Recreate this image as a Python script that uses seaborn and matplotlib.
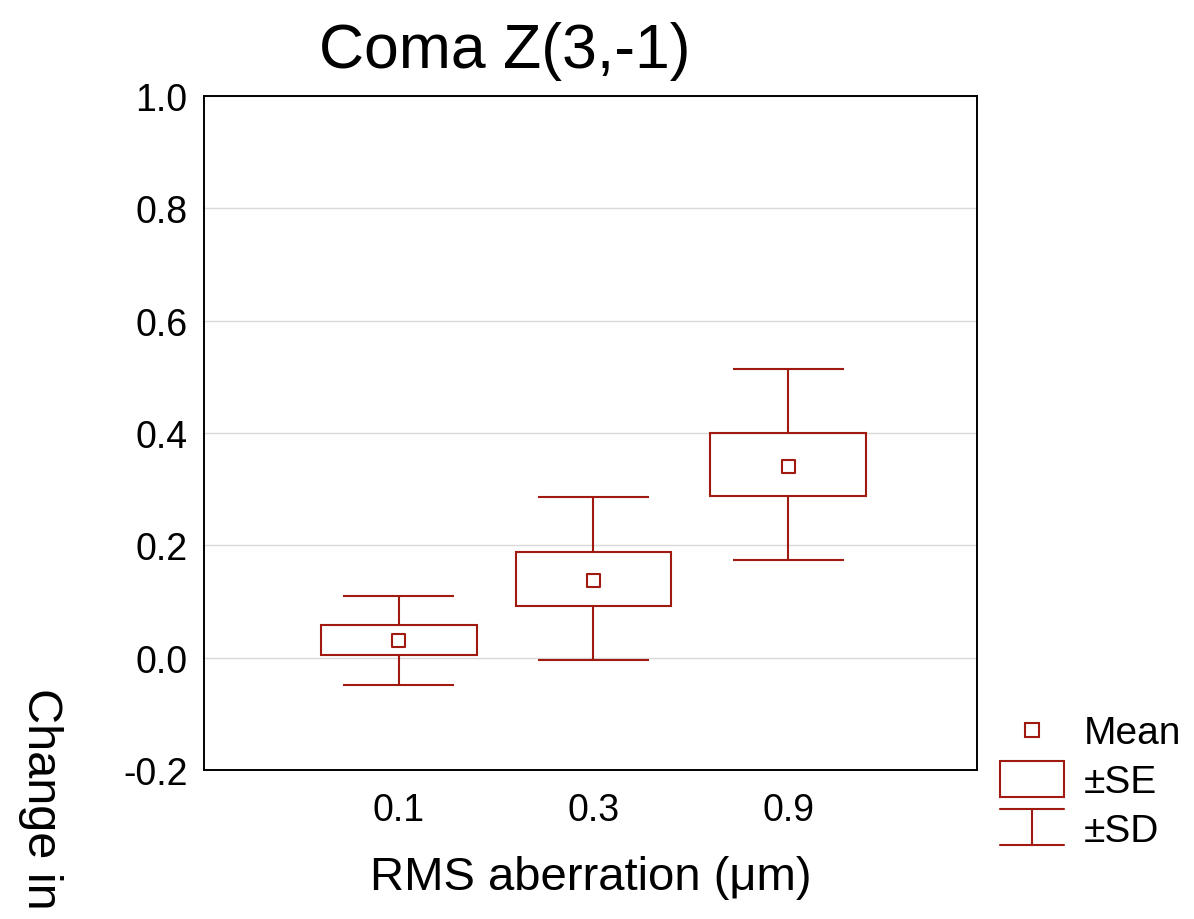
import numpy as np
import pandas as pd
import matplotlib
matplotlib.use("Agg")
import matplotlib.pyplot as plt
import seaborn as sns
from matplotlib.lines import Line2D
from matplotlib.patches import Rectangle
from matplotlib.legend_handler import HandlerBase

# values
rms = ["0.1", "0.3", "0.9"]
mean = [0.030, 0.138, 0.341]
se_lo = [0.004, 0.092, 0.288]
se_hi = [0.058, 0.188, 0.400]
sd_lo = [-0.049, -0.004, 0.174]
sd_hi = [0.110, 0.286, 0.514]
yticks = [-0.2, 0.0, 0.2, 0.4, 0.6, 0.8, 1.0]

red = "#a01a10"
lw = 1.5

sns.set_style("white")
plt.rcParams['font.family'] = ['Liberation Sans', 'DejaVu Sans']
plt.rcParams['text.color'] = 'black'
plt.rcParams['xtick.color'] = 'black'
plt.rcParams['ytick.color'] = 'black'

df = pd.DataFrame({"rms": rms, "mean": mean, "se_lo": se_lo, "se_hi": se_hi,
                   "sd_lo": sd_lo, "sd_hi": sd_hi})
df["x"] = np.arange(len(df))

fig = plt.figure(figsize=(11.94, 9.2), dpi=100)
ax = fig.add_axes([0.1709, 0.1620, 0.6474, 0.7326])

# +-SE boxes
ax.bar(df["x"], df["se_hi"] - df["se_lo"], bottom=df["se_lo"], width=0.8,
       fill=False, edgecolor=red, linewidth=lw, zorder=3)
# +-SD whiskers
ax.vlines(df["x"], df["se_hi"], df["sd_hi"], color=red, lw=lw, zorder=3)
ax.vlines(df["x"], df["sd_lo"], df["se_lo"], color=red, lw=lw, zorder=3)
ax.hlines(df["sd_hi"], df["x"] - 0.285, df["x"] + 0.285, color=red, lw=lw, zorder=3)
ax.hlines(df["sd_lo"], df["x"] - 0.285, df["x"] + 0.285, color=red, lw=lw, zorder=3)
# means
sns.scatterplot(data=df, x="x", y="mean", marker="s", s=85, facecolor="none",
                edgecolor=red, linewidth=lw, legend=False, zorder=4, ax=ax)

ax.set_xlim(-1.0, 2.97)
ax.set_ylim(-0.2, 1.0)
ax.set_xticks(df["x"])
ax.set_xticklabels(rms)
ax.set_yticks(yticks)
ax.set_yticklabels([f"{v:.1f}" for v in yticks])
ax.set_xlabel("")
ax.set_ylabel("")
ax.tick_params(axis="x", direction="in", length=3, width=1.4, pad=16, labelsize=27)
ax.tick_params(axis="y", direction="in", length=5, width=1.4, pad=12, labelsize=27)
ax.yaxis.grid(True, color="#d9d9d9", lw=1)
ax.set_axisbelow(True)
for s in ax.spines.values():
    s.set_color("black")
    s.set_linewidth(1.4)

fig.text(0.423, 1 - 68 / 920, "Coma Z(3,-1)", ha="center", va="baseline", fontsize=45)
fig.text(0.495, 1 - 890 / 920, "RMS aberration (μm)", ha="center", va="baseline", fontsize=34)
fig.text(40 / 1194, 1 - 688 / 920, "Change in coefficient (μm)", rotation=270,
         ha="center", va="top", fontsize=35)


class MeanHandler(HandlerBase):
    def create_artists(self, legend, orig_handle, xd, yd, w, h, fs, trans):
        m = Line2D([w / 2 - xd], [h / 2 - yd], marker="s", markersize=9.4,
                   markerfacecolor="none", markeredgecolor=red, mew=lw,
                   linestyle="none", transform=trans)
        return [m]


class SEHandler(HandlerBase):
    def create_artists(self, legend, orig_handle, xd, yd, w, h, fs, trans):
        r = Rectangle((-xd, -yd), w, h, fill=False, edgecolor=red, lw=lw,
                      transform=trans)
        return [r]


class SDHandler(HandlerBase):
    def create_artists(self, legend, orig_handle, xd, yd, w, h, fs, trans):
        x0, y0 = -xd, -yd
        top = Line2D([x0, x0 + w], [y0 + h, y0 + h], color=red, lw=lw, transform=trans)
        bot = Line2D([x0, x0 + w], [y0, y0], color=red, lw=lw, transform=trans)
        mid = Line2D([x0 + w / 2, x0 + w / 2], [y0, y0 + h], color=red, lw=lw, transform=trans)
        return [top, bot, mid]


h_mean, h_se, h_sd = object(), object(), object()
fig.legend([h_mean, h_se, h_sd], ["Mean", "±SE", "±SD"],
           handler_map={h_mean: MeanHandler(), h_se: SEHandler(), h_sd: SDHandler()},
           loc="upper left", bbox_to_anchor=(1000 / 1194, 1 - 713 / 920),
           frameon=False, fontsize=28, handlelength=1.65, handleheight=1.05,
           handletextpad=0.5, labelspacing=0.24, borderpad=0, borderaxespad=0)

fig.savefig("out.png", dpi=100)
